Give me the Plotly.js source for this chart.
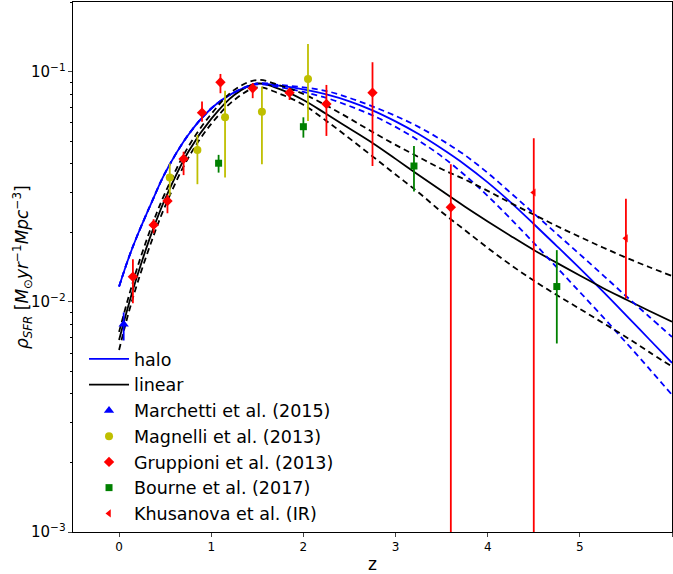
<!DOCTYPE html>
<html>
<head>
<meta charset="utf-8">
<script src="https://cdn.plot.ly/plotly-3.0.1.min.js"></script>
<style>html,body{margin:0;padding:0;background:#fff}#chart{width:673px;height:574px}</style>
</head>
<body>
<div id="chart"></div>
<script>
// ---- model curves (log10 of rho_SFR) ----
const zLow = [0, 0.1, 0.2, 0.35, 0.5, 0.75, 1.0, 1.25];
const haloLow = [-1.933, -1.813, -1.709, -1.570, -1.439, -1.274, -1.159, -1.089];
const zHigh = [1.5, 1.75, 2.0, 2.25, 2.5, 2.75, 3.0, 3.25, 3.5, 3.75, 4.0, 4.25, 4.5, 4.75, 5.0, 5.25, 5.5, 5.75, 6.0];
const haloMid = [-1.052, -1.061, -1.076, -1.098, -1.128, -1.167, -1.215, -1.270, -1.333, -1.402, -1.480, -1.567, -1.661, -1.757, -1.854, -1.954, -2.057, -2.161, -2.265];
const haloUp  = [-1.050, -1.057, -1.067, -1.083, -1.113, -1.150, -1.191, -1.239, -1.296, -1.361, -1.439, -1.526, -1.615, -1.704, -1.793, -1.883, -1.974, -2.063, -2.152];
const haloDn  = [-1.054, -1.067, -1.087, -1.113, -1.148, -1.189, -1.239, -1.298, -1.367, -1.448, -1.539, -1.639, -1.743, -1.850, -1.957, -2.065, -2.176, -2.289, -2.404];

const zLin = [0, 0.1, 0.2, 0.35, 0.5, 0.75, 1.0, 1.25, 1.5, 1.75, 2.0, 2.25, 2.5, 2.75, 3.0, 3.25, 3.5, 3.75, 4.0, 4.25, 4.5, 4.75, 5.0, 5.25, 5.5, 5.75, 6.0];
const linMid = [-2.165, -2.017, -1.883, -1.704, -1.552, -1.348, -1.204, -1.100, -1.050, -1.076, -1.122, -1.183, -1.246, -1.309, -1.378, -1.448, -1.517, -1.585, -1.650, -1.713, -1.774, -1.830, -1.885, -1.939, -1.989, -2.038, -2.086];
const linUp  = [-2.130, -1.983, -1.848, -1.674, -1.526, -1.326, -1.183, -1.078, -1.035, -1.059, -1.096, -1.146, -1.202, -1.261, -1.317, -1.370, -1.422, -1.467, -1.517, -1.570, -1.620, -1.670, -1.717, -1.763, -1.807, -1.848, -1.887];
const linDn  = [-2.209, -2.052, -1.917, -1.739, -1.583, -1.374, -1.226, -1.122, -1.067, -1.096, -1.143, -1.213, -1.289, -1.367, -1.446, -1.524, -1.609, -1.687, -1.765, -1.839, -1.907, -1.970, -2.030, -2.091, -2.152, -2.217, -2.281];

// ---- observational data ----
const marZ = [0.05], marY = [0.0080], marLo = [0.0068], marHi = [0.0090];
const magZ = [0.55, 0.85, 1.15, 1.55, 2.05];
const magY = [0.0348, 0.0458, 0.0635, 0.0672, 0.0932];
const magLo = [0.0290, 0.0325, 0.0348, 0.0397, 0.0612];
const magHi = [0.0400, 0.0532, 0.0829, 0.0863, 0.1324];
const gruZ = [0.15, 0.375, 0.525, 0.7, 0.9, 1.1, 1.45, 1.85, 2.25, 2.75, 3.6];
const gruY = [0.01288, 0.02163, 0.02748, 0.04188, 0.06651, 0.09018, 0.08488, 0.08128, 0.07261, 0.08128, 0.02582];
const gruLo = [0.00987, 0.0199, 0.0243, 0.0356, 0.0608, 0.0808, 0.0769, 0.0755, 0.0527, 0.0390, 0.0001];
const gruHi = [0.01535, 0.0229, 0.0292, 0.0450, 0.0743, 0.0980, 0.0893, 0.0849, 0.0878, 0.1102, 0.0397];
const bouZ = [1.08, 2.0, 3.2, 4.75];
const bouY = [0.0401, 0.0578, 0.0390, 0.01167];
const bouLo = [0.0365, 0.0518, 0.0302, 0.0066];
const bouHi = [0.0436, 0.0635, 0.0476, 0.0168];
const khuZ = [4.5, 5.5];
const khuY = [0.0299, 0.0189];
const khuLo = [0.0001, 0.01038];
const khuHi = [0.0515, 0.0281];

const yLabel = '<i>ρ</i><sub><i>SFR</i></sub> [<i>M</i><sub>⊙</sub><i>yr</i><sup>−1</sup><i>Mpc</i><sup>−3</sup>]';
const xLabel = 'z';

const pw = a => a.map(v => Math.pow(10, v));
const haloZ = zLow.concat(zHigh);
const haloS = pw(haloLow.concat(haloMid));
const haloU = pw(haloLow.concat(haloUp));
const haloD = pw(haloLow.concat(haloDn));

function line(x, y, color, dash, name, show) {
  return {x: x, y: y, type: 'scatter', mode: 'lines', name: name || '', showlegend: !!show,
    line: {color: color, width: 1.8, dash: dash || 'solid', shape: 'spline', smoothing: 1}, hoverinfo: 'skip'};
}
function pts(x, y, lo, hi, color, symbol, size, name) {
  return {x: x, y: y, type: 'scatter', mode: 'markers', name: name,
    marker: {color: color, symbol: symbol, size: size, line: {width: 0}},
    error_y: {type: 'data', symmetric: false,
      array: hi.map((h, i) => h - y[i]), arrayminus: lo.map((l, i) => y[i] - l),
      color: color, thickness: 1.8, width: 0}};
}
const DASH = '6px,4px';
const data = [
  line(haloZ, haloS, '#0000ff', 'solid', 'halo', true),
  line(zLin, pw(linMid), '#000000', 'solid', 'linear', true),
  line(haloZ, haloU, '#0000ff', DASH),
  line(haloZ, haloD, '#0000ff', DASH),
  line(zLin, pw(linUp), '#000000', DASH),
  line(zLin, pw(linDn), '#000000', DASH),
  pts(marZ, marY, marLo, marHi, '#0000ff', 'triangle-up', 9, 'Marchetti et al. (2015)'),
  pts(magZ, magY, magLo, magHi, '#bfbf00', 'circle', 8, 'Magnelli et al. (2013)'),
  pts(gruZ, gruY, gruLo, gruHi, '#ff0000', 'diamond', 8, 'Gruppioni et al. (2013)'),
  pts(bouZ, bouY, bouLo, bouHi, '#008000', 'square', 7, 'Bourne et al. (2017)'),
  pts(khuZ, khuY, khuLo, khuHi, '#ff0000', 'triangle-left', 7, 'Khusanova et al. (IR)')
];

const layout = {
  width: 673, height: 574,
  margin: {l: 73, r: 1, t: 2, b: 42},
  paper_bgcolor: '#fff', plot_bgcolor: '#fff',
  font: {family: 'DejaVu Sans', size: 12, color: '#000'},
  showlegend: true,
  legend: {x: 0.0184, y: 0.0, xanchor: 'left', yanchor: 'bottom', bgcolor: 'rgba(0,0,0,0)',
    itemwidth: 40,
    font: {family: 'DejaVu Sans', size: 17.5, color: '#000'}},
  xaxis: {range: [-0.5, 6.0], tickmode: 'linear', tick0: 0, dtick: 1, ticks: 'outside', ticklen: 4,
    showgrid: false, zeroline: false, showline: true, mirror: true, linecolor: '#000', linewidth: 1,
    tickfont: {family: 'DejaVu Sans', size: 12, color: '#000'},
    title: {text: xLabel, font: {family: 'DejaVu Sans', size: 17, color: '#000'}, standoff: 6}},
  yaxis: {type: 'log', range: [-3, -0.696], dtick: 1, ticks: 'outside', ticklen: 4, exponentformat: 'power',
    showgrid: false, zeroline: false, showline: true, mirror: true, linecolor: '#000', linewidth: 1,
    minor: {ticks: 'outside', ticklen: 2, dtick: 'D1', showgrid: false, tickcolor: '#000'},
    tickfont: {family: 'DejaVu Sans', size: 12, color: '#000'}},
  annotations: [{text: yLabel, xref: 'paper', yref: 'paper', x: -0.085, y: 0.5,
    xanchor: 'center', yanchor: 'middle', textangle: -90, showarrow: false,
    font: {family: 'DejaVu Sans', size: 17, color: '#000'}}]
};
Plotly.newPlot('chart', data, layout, {displayModeBar: false, staticPlot: true});
</script>
</body>
</html>
